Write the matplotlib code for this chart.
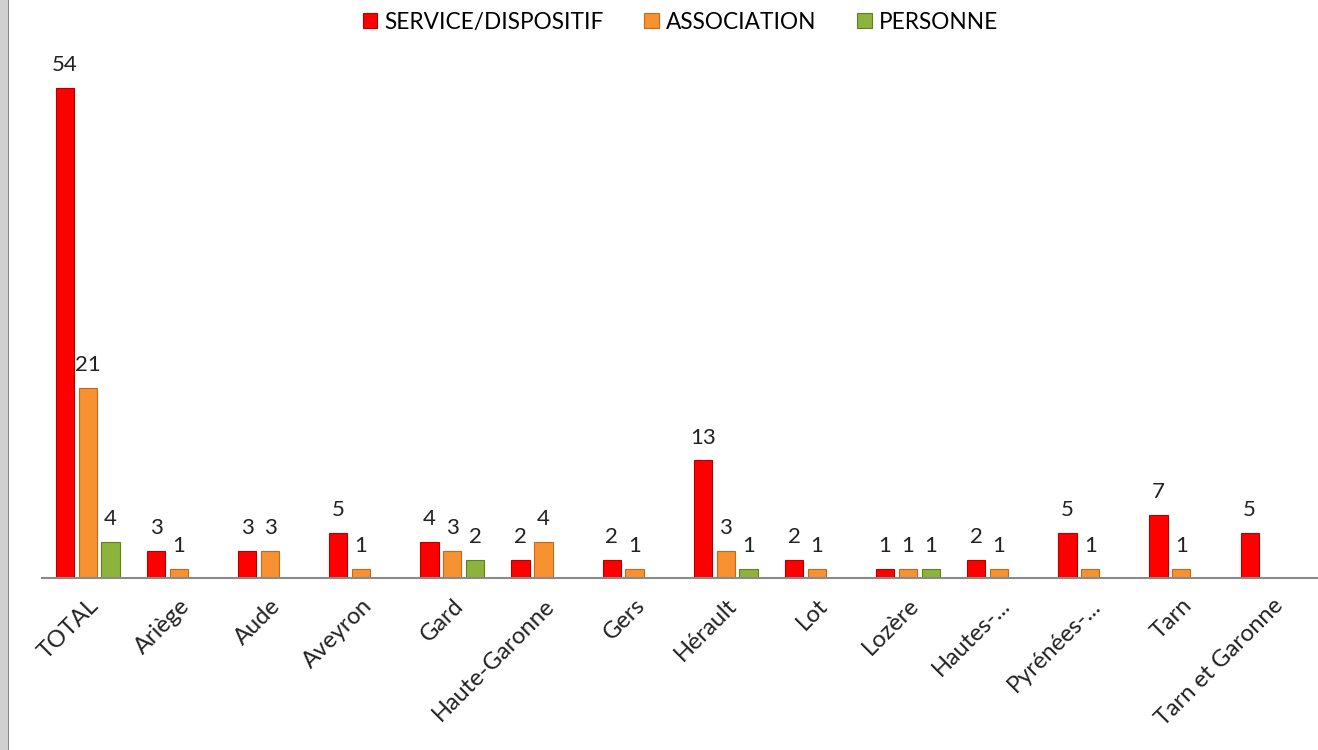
import matplotlib
matplotlib.use("Agg")
import matplotlib.pyplot as plt
import numpy as np
from matplotlib.patches import Rectangle

# données (NaN = cellule vide, pas de barre)
categories = ["TOTAL", "Ariège", "Aude", "Aveyron", "Gard", "Haute-Garonne", "Gers",
              "Hérault", "Lot", "Lozère", "Hautes-...", "Pyrénées-...", "Tarn",
              "Tarn et Garonne"]
series_names = ["SERVICE/DISPOSITIF", "ASSOCIATION", "PERSONNE"]
service = [54, 3, 3, 5, 4, 2, 2, 13, 2, 1, 2, 5, 7, 5]
association = [21, 1, 3, 1, 3, 4, 1, 3, 1, 1, 1, 1, 1, np.nan]
personne = [4, np.nan, np.nan, np.nan, 2, np.nan, np.nan, 1, np.nan, 1, np.nan, np.nan, np.nan, np.nan]

colors = ["#FF0000", "#F79233", "#8CB43C"]
edges = ["#B00000", "#C8661A", "#5E7F22"]

plt.rcParams["font.family"] = ["Lato", "DejaVu Sans"]

fig = plt.figure(figsize=(13.18, 7.5), dpi=100)
ax = fig.add_axes([0.032, 0.229, 0.968, 0.726])

x = np.arange(len(categories))
width = 0.2
step = 0.25
for i, (vals, name) in enumerate(zip([service, association, personne], series_names)):
    vals = np.array(vals, dtype=float)
    pos = x + (i - 1) * step
    ax.bar(pos, vals, width=width, color=colors[i], edgecolor=edges[i],
           linewidth=0.8, label=name)
    for xp, v in zip(pos, vals):
        if np.isnan(v):
            continue
        ax.text(xp, v + 1.4, f"{int(v)}", ha="center", va="bottom", fontsize=16,
                color="#222222")

ax.set_xlim(-0.5, len(categories) - 0.5)
ax.set_ylim(0, 60)
ax.set_yticks([])
for s in ["left", "right", "top"]:
    ax.spines[s].set_visible(False)
ax.spines["bottom"].set_color("#8A8A8A")
ax.spines["bottom"].set_linewidth(1.5)
ax.set_xticks(x)
ax.set_xticklabels(categories, rotation=45, ha="right", rotation_mode="anchor",
                   fontsize=17, color="#222222")
ax.tick_params(axis="x", length=0, pad=12)

ax.legend(loc="upper center", bbox_to_anchor=(0.5, 1.078), ncol=3, frameon=False,
          fontsize=16.3, handlelength=0.65, handleheight=0.65, handletextpad=0.3,
          columnspacing=1.8)

# bord gris de la fenêtre à gauche
fig.add_artist(Rectangle((0, 0), 0.0065, 1, transform=fig.transFigure,
                         facecolor="#D0D0D0", edgecolor="none"))
fig.add_artist(Rectangle((0.0058, 0), 0.0012, 1, transform=fig.transFigure,
                         facecolor="#8A8A8A", edgecolor="none"))

fig.savefig("out.png", dpi=100)
